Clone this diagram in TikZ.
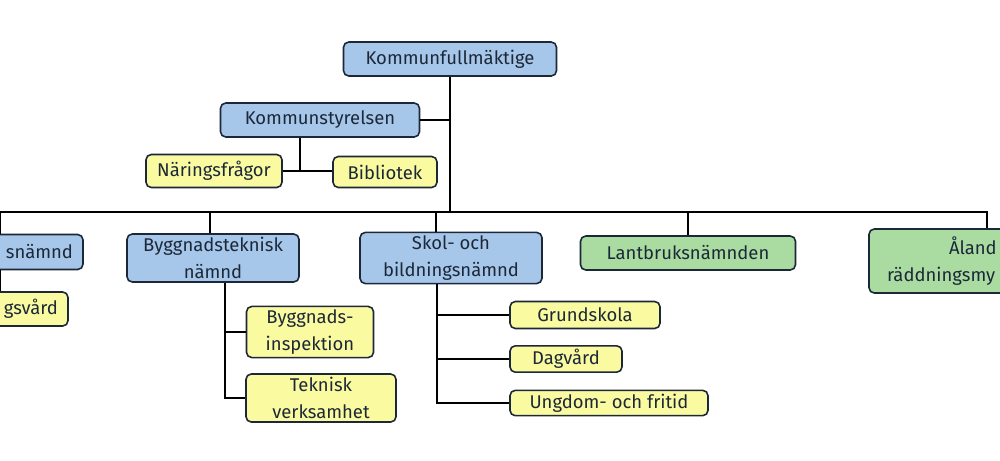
\documentclass[tikz,border=0pt]{standalone}
\usepackage{fontspec}
\setmainfont{Fira Sans}
\usetikzlibrary{positioning}

\definecolor{kblue}{RGB}{166,198,234}
\definecolor{kyellow}{RGB}{250,250,160}
\definecolor{kgreen}{RGB}{170,220,162}
\definecolor{kline}{RGB}{28,40,56}

\tikzset{
  box/.style={draw=kline, line width=0.9pt, rounded corners=3pt, text=kline,
    font=\fontsize{10.5}{15}\selectfont, align=center, inner sep=2pt},
  council/.style={box, fill=kblue},
  office/.style={box, fill=kyellow},
  board/.style={box, fill=kgreen},
  wire/.style={draw=black, line width=0.9pt}
}

\begin{document}
\begin{tikzpicture}[x=0.02cm, y=-0.02cm]
  \useasboundingbox (0,0) rectangle (1000,460);
  \clip (0,0) rectangle (1000,460);
  % top level
  \path
  node[council, minimum width=213*0.02cm, minimum height=34*0.02cm] (kf) at (450,59) {Kommunfullmäktige}
  node[council, minimum width=199*0.02cm, minimum height=34*0.02cm] (ks) at (320,120) {Kommunstyrelsen}
  node[office, minimum width=136*0.02cm, minimum height=33*0.02cm] (nf) at (214,171) {Näringsfrågor}
  node[office, minimum width=104*0.02cm, minimum height=31*0.02cm] (bib) at (385,172) {Bibliotek}
  ;
  % boards
  \path
  node[council, minimum width=170*0.02cm, minimum height=35*0.02cm, text width=150*0.02cm, align=right] (mn) at (-2,252) {snämnd}
  node[office, minimum width=150*0.02cm, minimum height=34*0.02cm, text width=130*0.02cm, align=right] (mv) at (-7,309) {gsvård}
  node[council, minimum width=172*0.02cm, minimum height=46*0.02cm] (bt) at (213,258) {Byggnadsteknisk\\nämnd}
  node[council, minimum width=182*0.02cm, minimum height=46*0.02cm] (sb) at (451,258) {Skol- och\\bildningsnämnd}
  node[board, minimum width=215*0.02cm, minimum height=34*0.02cm] (lb) at (688,253) {Lantbruksnämnden}
  node[board, minimum width=236*0.02cm, minimum height=64*0.02cm, text width=200*0.02cm, align=left] (rm) at (987,261) {\hspace*{62\dimexpr0.02cm\relax}Åland\\räddningsmy}
  ;
  % offices under the boards
  \path
  node[office, minimum width=127*0.02cm, minimum height=48*0.02cm] (bi) at (310,332) {Byggnads-\\inspektion}
  node[office, minimum width=150*0.02cm, minimum height=48*0.02cm] (tv) at (321,398) {Teknisk\\verksamhet}
  node[office, minimum width=150*0.02cm, minimum height=27*0.02cm] (gs) at (585,315) {Grundskola}
  node[office, minimum width=112*0.02cm, minimum height=25*0.02cm] (dv) at (566,359) {Dagvård}
  node[office, minimum width=198*0.02cm, minimum height=25*0.02cm] (uf) at (609,403) {Ungdom- och fritid}
  ;
  \coordinate (bar) at (450,212);
  \coordinate (ksj) at (300,171);
  % connectors
  \draw[wire] (kf.south) -- (bar);
  \draw[wire] (ks.east) -- (ks.east -| kf.south);
  \draw[wire] (ks.south -| ksj) -- (ksj);
  \draw[wire] (nf.east) -- (nf.east -| bib.west);
  \draw[wire] (mn.north -| 0,0) -- (0,212) -- (987,212) -- (rm.north -| 987,0);
  \draw[wire] (bt.north -| 210,0) -- (210,212);
  \draw[wire] (sb.north -| 436,0) -- (436,212);
  \draw[wire] (lb.north) -- (lb.north |- bar);
  \draw[wire] (0,270) -- (mv.north -| 0,0);
  \draw[wire] (bt.south -| 225,0) -- (tv.west -| 225,0) -- (tv.west);
  \draw[wire] (bi.west) -- (bi.west -| 225,0);
  \draw[wire] (sb.south -| 437,0) -- (uf.west -| 437,0) -- (uf.west);
  \draw[wire] (gs.west) -- (gs.west -| 437,0);
  \draw[wire] (dv.west) -- (dv.west -| 437,0);
\end{tikzpicture}
\end{document}
